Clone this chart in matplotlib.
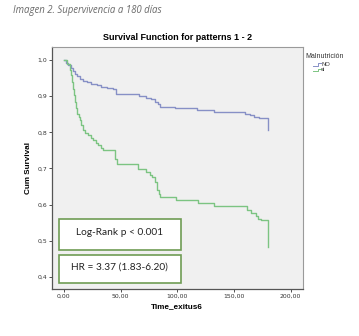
import matplotlib
matplotlib.use("Agg")
import matplotlib.pyplot as plt
from matplotlib.patches import Rectangle
from matplotlib.lines import Line2D
from matplotlib.ticker import FuncFormatter

# Kaplan-Meier steps
t_no = [0, 2, 4, 6, 8, 10, 12, 14, 17, 20, 24, 29, 33, 38, 43, 46, 66, 72, 77,
        80, 83, 85, 98, 117, 132, 160, 164, 168, 172, 180]
s_no = [1.0, 0.993, 0.986, 0.978, 0.970, 0.962, 0.955, 0.948, 0.942, 0.938,
        0.934, 0.930, 0.926, 0.922, 0.919, 0.906, 0.900, 0.896, 0.891, 0.885,
        0.878, 0.870, 0.866, 0.861, 0.856, 0.852, 0.847, 0.843, 0.840, 0.806]

t_si = [0, 3, 5, 6, 7, 8, 9, 10, 11, 12, 13, 14, 15, 17, 19, 21.5, 24, 26, 28,
        30.4, 33, 34.8, 45, 46.6, 65.8, 72, 76, 77.6, 80.5, 82, 83.5, 84.4, 99,
        118, 132, 161.6, 164.6, 169, 171, 173.5, 180]
s_si = [1.0, 0.990, 0.972, 0.958, 0.940, 0.921, 0.903, 0.885, 0.866, 0.852,
        0.843, 0.833, 0.819, 0.806, 0.799, 0.792, 0.785, 0.778, 0.771, 0.764,
        0.757, 0.750, 0.727, 0.713, 0.699, 0.690, 0.683, 0.676, 0.662, 0.639,
        0.630, 0.622, 0.614, 0.605, 0.595, 0.585, 0.576, 0.569, 0.560, 0.556,
        0.482]

groups = ["NO", "si"]
xticks = [0, 50, 100, 150, 200]
yticks = [0.4, 0.5, 0.6, 0.7, 0.8, 0.9, 1.0]
box_texts = ["Log-Rank p < 0.001", "HR = 3.37 (1.83-6.20)"]

blue = "#8790c6"
green = "#7cc482"
box_green = "#6f9c54"

fig = plt.figure(figsize=(3.59, 3.36), dpi=100)
fig.patch.set_facecolor("white")
ax = fig.add_axes([0.1448, 0.140, 0.698, 0.720])
ax.set_facecolor("#f0f0f0")

ax.step(t_no, s_no, where="post", color=blue, lw=1.0)
ax.step(t_si, s_si, where="post", color=green, lw=1.0)

ax.set_xlim(-10.5, 210.5)
ax.set_ylim(0.3665, 1.036)
ax.set_xticks(xticks)
ax.set_yticks(yticks)
ax.xaxis.set_major_formatter(FuncFormatter(lambda v, p: f"{v:.2f}".replace(".", ",")))
ax.yaxis.set_major_formatter(FuncFormatter(lambda v, p: f"{v:.1f}".replace(".", ",")))
ax.tick_params(labelsize=4.4, length=2, width=0.6, colors="#333333", pad=1.5)
for side in ["top", "right"]:
    ax.spines[side].set_color("#9a9a9a")
    ax.spines[side].set_linewidth(0.8)
for side in ["left", "bottom"]:
    ax.spines[side].set_color("#555555")
    ax.spines[side].set_linewidth(0.9)

ax.set_xlabel("Time_exitus6", fontsize=5.9, fontweight="bold",
              family="Liberation Sans", labelpad=3)
ax.set_ylabel("Cum Survival", fontsize=5.9, fontweight="bold",
              family="Liberation Sans", labelpad=4)
ax.set_title("Survival Function for patterns 1 - 2", fontsize=6.5,
             fontweight="bold", family="Liberation Sans", pad=5)

# annotation boxes
box_rows = [(0.161, 0.129), (0.024, 0.116)]
for (y0, h), txt in zip(box_rows, box_texts):
    ax.add_patch(Rectangle((0.027, y0), 0.488, h, transform=ax.transAxes,
                           facecolor="white", edgecolor=box_green, lw=1.2,
                           zorder=3))
    ax.text(0.271, y0 + h / 2 + 0.008, txt, transform=ax.transAxes,
            ha="center", va="center", fontsize=7.3, family="Lato",
            color="#222222", zorder=4)

# legend
fig.text(0.851, 0.833, "Malnutrición", fontsize=5.0, color="#333333",
         family="Liberation Sans", va="center")
for i, (g, c) in enumerate(zip(groups, [blue, green])):
    yc = 0.809 - i * 0.016
    fig.add_artist(Line2D([0.873, 0.885, 0.885, 0.894], [yc - 0.004, yc - 0.004, yc + 0.003, yc + 0.003],
                          transform=fig.transFigure, color=c, lw=0.7))
    fig.text(0.895, yc, g, fontsize=4.2, color="#333333",
             family="Liberation Sans", va="center")

fig.text(0.036, 0.970, "Imagen 2. Supervivencia a 180 días", fontsize=6.9,
         style="italic", color="#6a6a6a", family="Open Sans", va="center")

fig.savefig("out.png", dpi=100)
